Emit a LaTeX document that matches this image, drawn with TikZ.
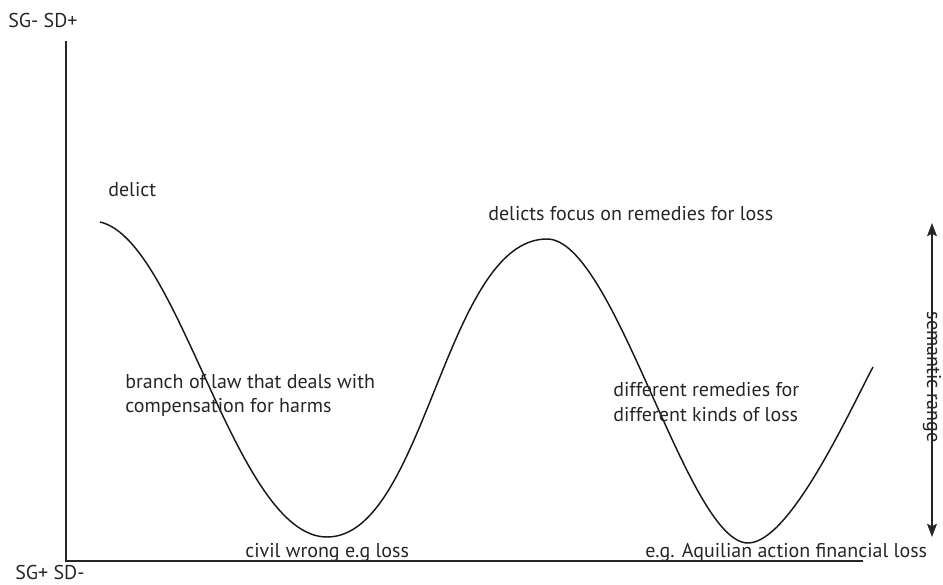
\documentclass[tikz,border=0pt]{standalone}
\usepackage{fontspec}
\setmainfont{PT Sans}
\usetikzlibrary{arrows.meta}

\begin{document}
\begin{tikzpicture}[x=0.75pt, y=-0.75pt,
		lbl/.style={anchor=west, inner sep=0pt, font=\fontsize{15}{18}\selectfont, text=black!85},
		eje/.style={line width=1.1pt, black!85},
		onda/.style={line width=1.1pt, black!90},
		rango/.style={line width=0.8pt, black!85, {Stealth[length=10pt,width=7.5pt,inset=2pt]}-{Stealth[length=10pt,width=7.5pt,inset=2pt]}}]
			\useasboundingbox (0,0) rectangle (943,585);
			
			% Ejes
			\coordinate (ytop) at (66,41);
			\coordinate (origen) at (66,561);
			\coordinate (xfin) at (863,561);
			\draw[eje] (ytop) -- (origen) -- (xfin);
			\node[lbl] (sgtop) at (8,21) {SG- SD+};
			\node[lbl] (sgbot) at (15,572) {SG+ SD-};
			
			% Curva
			\coordinate (c0) at (100,222);
			\coordinate (min1) at (327,537);
			\coordinate (max1) at (547,239);
			\coordinate (min2) at (748,543);
			\coordinate (c4) at (873,367);
			\draw[onda] (c0) .. controls (180,240) and (235,537) .. (min1)
				.. controls (425,537) and (445,239) .. (max1)
				.. controls (615,239) and (687,543) .. (min2)
				.. controls (790,543) and (850,410) .. (c4);
			
			% Textos
			\node[lbl] (delict) at (108,190) {delict};
			\node[lbl] (focus) at (488,214) {delicts focus on remedies for loss};
			\node[lbl] (branch) at (125,382) {branch of law that deals with};
			\node[lbl] (comp) at (125,407) {compensation for harms};
			\node[lbl] (diff) at (613,390) {different remedies for};
			\node[lbl] (kinds) at (613,415) {different kinds of loss};
			\node[lbl] (civil) at (245,553) {civil wrong e.g loss};
			\node[lbl] (aquil) at (645,553) {e.g. Aquilian action financial loss};
			
			% Rango semantico
			\coordinate (rtop) at (932,223);
			\coordinate (rbot) at (932,537);
			\draw[rango] (rtop) -- (rbot);
			\node[lbl, anchor=center, rotate=-90] (sem) at (932,377) {semantic range};
		\end{tikzpicture}
\end{document}
